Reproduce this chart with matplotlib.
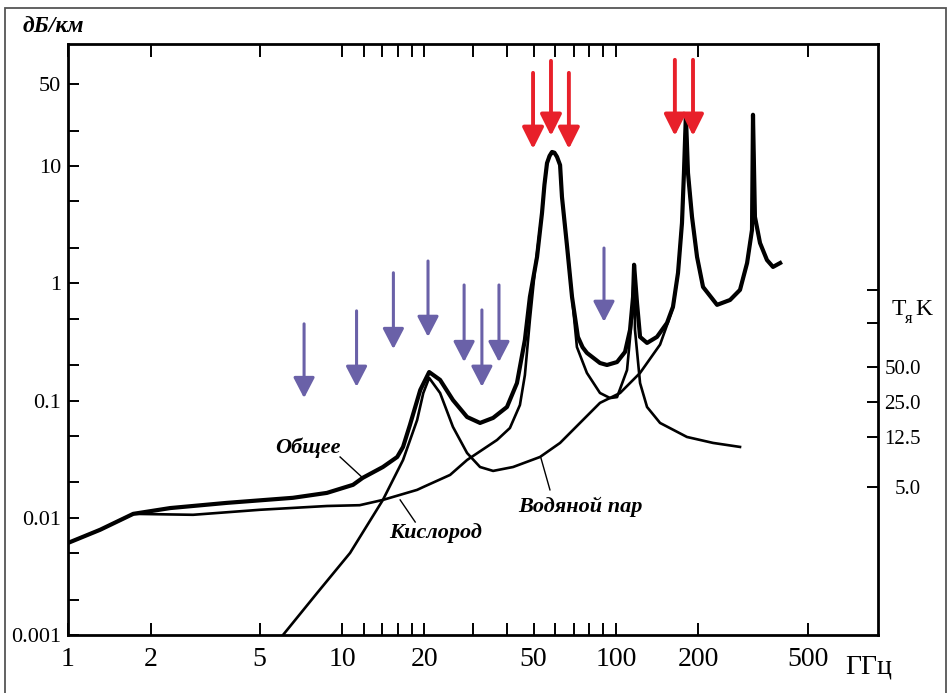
import matplotlib
matplotlib.use("Agg")
import matplotlib.pyplot as plt
from matplotlib.patches import Rectangle

plt.rcParams["font.family"] = ["Liberation Serif", "DejaVu Serif"]

# ── data ─────────────────────────────────────────────────────────────────────
total_f = [1.0, 1.31, 1.73, 2.36, 3.80, 6.62, 8.81, 10.97, 11.9, 14.1, 15.9, 16.7,
           17.7, 19.3, 20.8, 22.8, 25.4, 28.6, 31.9, 35.6, 40.0, 43.5, 46.5, 48.5,
           51.5, 53.7, 54.8, 56.0, 57.2, 58.4, 59.6, 60.9, 62.5, 63.5, 66.3, 69.1,
           72.6, 75.5, 78.3, 87.4, 92.7, 100.9, 107.9, 112.5, 115.4, 116.4, 119.3,
           122.4, 129.8, 141.1, 153.5, 161.4, 168.4, 174.1, 177.0, 179.9, 183.1,
           189.4, 197.6, 207.8, 233.8, 260.8, 283.5, 300.9, 313.6, 316.2, 321.4,
           335.4, 355.6, 374.1, 397.2]
total_db = [0.0061, 0.0079, 0.0108, 0.0121, 0.0134, 0.0148, 0.0163, 0.0191, 0.0219,
            0.0271, 0.0330, 0.0402, 0.0620, 0.123, 0.175, 0.150, 0.101, 0.0724,
            0.0644, 0.0711, 0.0881, 0.141, 0.329, 0.766, 1.68, 3.99, 6.92, 10.6,
            12.2, 13.2, 13.0, 12.0, 10.2, 5.46, 2.05, 0.766, 0.349, 0.285, 0.255,
            0.209, 0.201, 0.213, 0.260, 0.400, 0.766, 1.44, 0.681, 0.349, 0.310,
            0.349, 0.459, 0.630, 1.23, 3.27, 8.75, 27.4, 8.75, 3.69, 1.68, 0.931,
            0.655, 0.721, 0.879, 1.49, 2.86, 27.4, 3.69, 2.21, 1.58, 1.38, 1.49]

oxy_f = [1.0, 1.31, 1.73, 2.86, 5.02, 8.81, 11.6, 14.1, 18.8, 19.8, 24.8, 28.6,
         36.8, 41.0, 44.6, 46.5, 48.5, 50.6, 53.7, 54.8, 56.0, 57.2, 58.4, 59.6,
         60.9, 62.5, 63.5, 66.3, 69.1, 72.0, 78.3, 87.4, 95.1, 100.9, 109.7, 114.4,
         116.4, 117.3, 122.4, 129.8, 144.8, 181.5, 226.0, 283.5]
oxy_db = [0.0061, 0.0079, 0.0108, 0.0106, 0.0117, 0.0126, 0.0128, 0.0142, 0.0173,
          0.0183, 0.0232, 0.0311, 0.0461, 0.0583, 0.0916, 0.165, 0.488, 1.30, 3.99,
          6.92, 10.6, 12.2, 13.2, 13.0, 12.0, 10.2, 5.46, 2.05, 0.766, 0.286, 0.172,
          0.116, 0.105, 0.107, 0.182, 0.516, 1.44, 0.400, 0.141, 0.0881, 0.0644,
          0.0489, 0.0435, 0.0402]

vap_f = [6.09, 8.11, 10.7, 14.1, 16.7, 18.8, 19.8, 20.8, 22.8, 25.4, 28.6, 31.9,
         35.6, 42.1, 52.8, 62.5, 87.4, 103.5, 122.4, 144.8, 153.5, 161.4, 168.4,
         174.1, 177.0, 179.9, 183.1, 189.4, 197.6, 207.8, 233.8, 260.8, 283.5, 300.9,
         313.6, 316.2, 321.4, 335.4, 355.6, 374.1, 397.2]
vap_db = [0.001, 0.00228, 0.00501, 0.0142, 0.0311, 0.0682, 0.116, 0.156, 0.116,
          0.0596, 0.0357, 0.0271, 0.0251, 0.0271, 0.0330, 0.0435, 0.0955, 0.116,
          0.172, 0.300, 0.440, 0.620, 1.23, 3.27, 8.75, 27.4, 8.75, 3.69, 1.68,
          0.931, 0.655, 0.721, 0.879, 1.49, 2.86, 27.4, 3.69, 2.21, 1.58, 1.38, 1.49]

# channel arrows: frequency, tip level, tail level
blue_f = [7.27, 11.3, 15.4, 20.6, 27.9, 32.4, 37.4, 90.4]
blue_tip = [0.105, 0.131, 0.275, 0.349, 0.213, 0.131, 0.213, 0.469]
blue_top = [0.451, 0.582, 1.23, 1.55, 0.968, 0.593, 0.968, 2.0]
red_f = [49.8, 57.9, 67.3, 164, 191]
red_tip = [14.0, 18.1, 14.0, 18.1, 18.1]
red_top = [62.4, 79.0, 62.4, 80.6, 80.6]

x_major = [1, 2, 5, 10, 20, 50, 100, 200, 500]
x_labels = ["1", "2", "5", "10", "20", "50", "100", "200", "500"]
x_minor = [12, 14, 16, 18, 30, 40, 60, 70, 80, 90]
y_major = [0.001, 0.01, 0.1, 1, 10, 50]
y_labels = ["0.001", "0.01", "0.1", "1", "10", "50"]
y_minor = [0.002, 0.005, 0.02, 0.05, 0.2, 0.5, 2, 5, 20]
tb_pos = [0.879, 0.459, 0.194, 0.0973, 0.0489, 0.0183]
tb_labels = ["", "", "50.0", "25.0", "12.5", "5.0"]

BLUE = "#6a61a8"
RED = "#e8202a"

# ── figure ───────────────────────────────────────────────────────────────────
fig = plt.figure(figsize=(9.5, 6.93), dpi=100)
ax = fig.add_axes([0.0716, 0.0837, 0.8526, 0.8528])
ax.set_xscale("log")
ax.set_yscale("log")
ax.set_xlim(1, 904)
ax.set_ylim(0.001, 110)

ax.plot(oxy_f, oxy_db, color="black", lw=1.9, solid_joinstyle="round")
ax.plot(vap_f, vap_db, color="black", lw=1.9, solid_joinstyle="round")
ax.plot(total_f, total_db, color="black", lw=3.0, solid_joinstyle="round")

for f, t, s in zip(blue_f, blue_tip, blue_top):
    ax.annotate("", xy=(f, t), xytext=(f, s),
                arrowprops=dict(arrowstyle="-|>,head_length=1.25,head_width=0.65",
                                color=BLUE, lw=2.2, shrinkA=0, shrinkB=0))
for f, t, s in zip(red_f, red_tip, red_top):
    ax.annotate("", xy=(f, t), xytext=(f, s),
                arrowprops=dict(arrowstyle="-|>,head_length=1.3,head_width=0.65",
                                color=RED, lw=2.8, shrinkA=0, shrinkB=0))

# curve labels with leader lines
lab = dict(fontsize=16, style="italic", fontweight="bold", ha="center", va="center")
ax.text(7.51, 0.0395, "Общее", **lab)
ax.plot([9.84, 11.9], [0.0330, 0.0219], color="black", lw=1.0)
ax.text(22.0, 0.00741, "Кислород", **lab)
ax.plot([16.3, 18.5], [0.0142, 0.0092], color="black", lw=1.0)
ax.text(73.9, 0.0124, "Водяной пар", **lab)
ax.plot([53.2, 57.4], [0.0324, 0.0173], color="black", lw=1.0)

# axes / ticks
ax.xaxis.set_major_locator(matplotlib.ticker.FixedLocator(x_major))
ax.xaxis.set_minor_locator(matplotlib.ticker.FixedLocator(x_minor))
ax.set_xticklabels(x_labels)
ax.xaxis.set_minor_formatter(matplotlib.ticker.NullFormatter())
ax.yaxis.set_major_locator(matplotlib.ticker.FixedLocator(y_major))
ax.yaxis.set_minor_locator(matplotlib.ticker.FixedLocator(y_minor))
ax.set_yticklabels(y_labels)
ax.yaxis.set_minor_formatter(matplotlib.ticker.NullFormatter())

ax.tick_params(axis="x", which="both", direction="in", top=True, length=9,
               width=1.4, labelsize=20, pad=9)
ax.tick_params(axis="y", which="both", direction="in", right=False, length=8,
               width=1.4, labelsize=16, pad=5)
for s in ax.spines.values():
    s.set_linewidth(2.0)

# brightness temperature scale on the right
ax2 = ax.twinx()
ax2.set_yscale("log")
ax2.set_ylim(ax.get_ylim())
ax2.yaxis.set_major_locator(matplotlib.ticker.FixedLocator(tb_pos))
ax2.yaxis.set_minor_locator(matplotlib.ticker.NullLocator())
ax2.set_yticklabels(tb_labels)
ax2.tick_params(axis="y", direction="in", length=8, width=1.4, labelsize=15, pad=31)
for t in ax2.get_yticklabels():
    t.set_horizontalalignment("right")
for s in ax2.spines.values():
    s.set_visible(False)

fig.text(0.0558, 0.962, "дБ/км", fontsize=17, style="italic", fontweight="bold",
         ha="center", va="center")
fig.text(0.914, 0.0375, "ГГц", fontsize=20, ha="center", va="center")
fig.text(0.946, 0.553, "T", fontsize=17, ha="center", va="center")
fig.text(0.957, 0.539, "я", fontsize=12, ha="center", va="center")
fig.text(0.972, 0.553, "K", fontsize=17, ha="center", va="center")

# scan border
fig.add_artist(Rectangle((0.0053, -0.05), 0.9905, 1.0385, transform=fig.transFigure,
                         fill=False, edgecolor="#555555", lw=1.3))

fig.savefig("out.png", dpi=100)
